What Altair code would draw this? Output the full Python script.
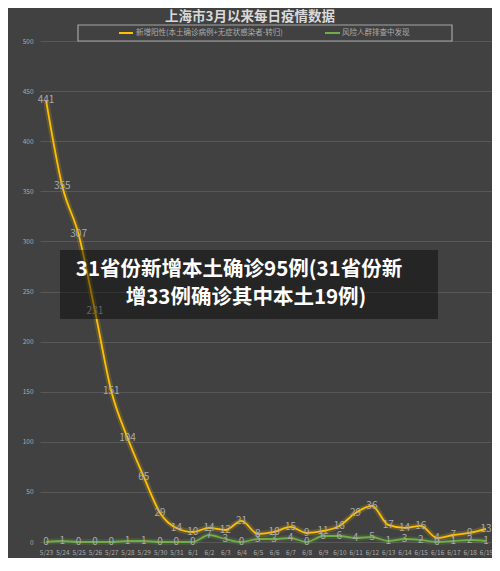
import altair as alt
import pandas as pd

dates = ["5/23", "5/24", "5/25", "5/26", "5/27", "5/28", "5/29", "5/30", "5/31",
         "6/1", "6/2", "6/3", "6/4", "6/5", "6/6", "6/7", "6/8", "6/9", "6/10",
         "6/11", "6/12", "6/13", "6/14", "6/15", "6/16", "6/17", "6/18", "6/19"]
new_positive = [441, 355, 307, 231, 151, 104, 65, 29, 14, 10, 14, 12, 21, 8, 10,
                15, 9, 11, 16, 29, 36, 17, 14, 16, 4, 7, 9, 13]
risk_screening = [0, 1, 0, 0, 0, 1, 1, 0, 0, 0, 7, 3, 0, 3, 3, 4, 0, 6, 6, 4, 5,
                  1, 3, 2, 0, 1, 2, 1]
series_names = ["新增阳性(本土确诊病例+无症状感染者-转归)", "风险人群排查中发现"]
title_text = "上海市3月以来每日疫情数据"
overlay_lines = ["31省份新增本土确诊95例(31省份新", "增33例确诊其中本土19例)"]

YELLOW = "#FFC000"
GREEN = "#70AD47"
LABEL = "#ABABAB"
FONT = "Noto Sans CJK SC"

df_y = pd.DataFrame({"date": dates, "value": new_positive})
df_g = pd.DataFrame({"date": dates, "value": risk_screening})

x_enc = alt.X("date:O", sort=dates, title=None,
              scale=alt.Scale(type="point", padding=0.37),
              axis=alt.Axis(labelAngle=0, labelFontSize=6.5, labelColor=LABEL,
                            labelFont=FONT, labelPadding=7, ticks=False,
                            domain=False, grid=False))
y_enc = alt.Y("value:Q", title=None,
              scale=alt.Scale(domain=[0, 500], nice=False),
              axis=alt.Axis(values=list(range(0, 501, 50)), labelFontSize=6.5,
                            labelColor=LABEL, labelFont=FONT, labelPadding=7,
                            ticks=False, domain=False, gridColor="#585858",
                            gridWidth=1))


def series_layers(df, color):
    glow = alt.Chart(df).mark_line(interpolate="monotone", color=color,
                                   strokeWidth=6, opacity=0.18).encode(x=x_enc, y=y_enc)
    line = alt.Chart(df).mark_line(interpolate="monotone", color=color,
                                   strokeWidth=1.8).encode(x=x_enc, y=y_enc)
    labels = alt.Chart(df).mark_text(font=FONT, fontSize=10, color=LABEL,
                                     baseline="middle").encode(
        x=x_enc, y=y_enc, text="value:Q")
    return glow, line, labels


g_glow, g_line, g_lab = series_layers(df_g, GREEN)
y_glow, y_line, y_lab = series_layers(df_y, YELLOW)

one = pd.DataFrame({"k": [0]})

title = alt.Chart(pd.DataFrame({"t": [title_text]})).mark_text(
    font=FONT, fontSize=13.5, fontWeight="bold", color="#D9D9D9",
    align="center", baseline="middle").encode(
    x=alt.value(210), y=alt.value(-24), text="t:N")

legend_box = alt.Chart(one).mark_rect(fill=None, stroke="#A6A6A6",
                                      strokeWidth=1.2).encode(
    x=alt.value(38), x2=alt.value(412), y=alt.value(-16), y2=alt.value(0))

leg_y_line = alt.Chart(one).mark_rule(color=YELLOW, strokeWidth=2).encode(
    x=alt.value(79), x2=alt.value(93), y=alt.value(-8))
leg_g_line = alt.Chart(one).mark_rule(color=GREEN, strokeWidth=2).encode(
    x=alt.value(285), x2=alt.value(300), y=alt.value(-8))
leg_y_text = alt.Chart(pd.DataFrame({"t": [series_names[0]]})).mark_text(
    font=FONT, fontSize=7.5, color=LABEL, align="left", baseline="middle").encode(
    x=alt.value(96), y=alt.value(-8), text="t:N")
leg_g_text = alt.Chart(pd.DataFrame({"t": [series_names[1]]})).mark_text(
    font=FONT, fontSize=7.5, color=LABEL, align="left", baseline="middle").encode(
    x=alt.value(302), y=alt.value(-8), text="t:N")

overlay_box = alt.Chart(one).mark_rect(fill="#000000", opacity=0.42).encode(
    x=alt.value(20), x2=alt.value(398), y=alt.value(209), y2=alt.value(278))
ov1 = alt.Chart(pd.DataFrame({"t": [overlay_lines[0]]})).mark_text(
    font=FONT, fontSize=20.5, fontWeight="bold", color="#FFFFFF",
    align="center", baseline="middle").encode(
    x=alt.value(199), y=alt.value(229), text="t:N")
ov2 = alt.Chart(pd.DataFrame({"t": [overlay_lines[1]]})).mark_text(
    font=FONT, fontSize=20.5, fontWeight="bold", color="#FFFFFF",
    align="center", baseline="middle").encode(
    x=alt.value(206), y=alt.value(257), text="t:N")

chart = alt.layer(
    g_glow, y_glow, g_line, y_line, g_lab, y_lab,
    title, legend_box, leg_y_line, leg_g_line, leg_y_text, leg_g_text,
    overlay_box, ov1, ov2
).properties(
    width=452, height=501,
    autosize=alt.AutoSizeParams(type="none"),
    padding={"left": 32, "top": 33, "right": 0, "bottom": 16},
    background="#414141"
).configure_view(stroke=None)

chart.save("out.html", embed_options={"renderer": "svg", "actions": False})
